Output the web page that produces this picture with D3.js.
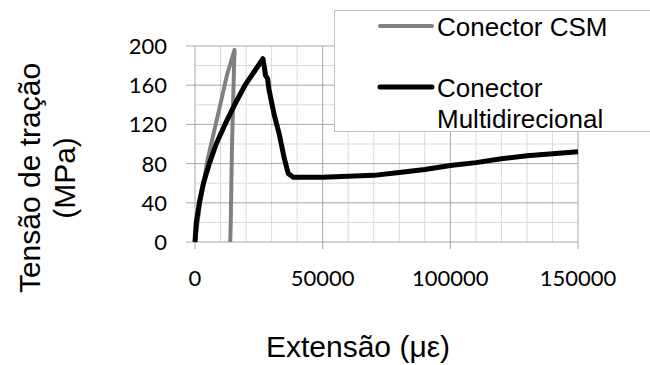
<!DOCTYPE html>
<html>
<head>
<meta charset="utf-8">
<script src="https://cdn.jsdelivr.net/npm/d3@7"></script>
<style>
  body { margin: 0; background: #fff; }
  svg { display: block; }
</style>
</head>
<body>
<div id="chart"></div>
<script>
// data (strain in microstrain, stress in MPa)
const csmStrain = [0, 2000, 5000, 9000, 12500, 15500, 15300, 14500, 14000, 13800];
const csmStress = [0, 40, 85, 130, 170, 196, 180, 100, 20, 0];

const multiStrain = [0, 500, 1700, 3300, 5600, 8300, 11750, 15500, 19600, 23500, 26600, 27200, 27600, 28400, 29000, 31000, 33000, 35000, 36500, 38500, 50000, 60000, 70000, 80000, 90000, 100000, 110000, 120000, 130000, 140000, 150000];
const multiStress = [0, 20, 40, 60, 80, 100, 120, 140, 160, 175, 187, 178, 170, 167, 155, 130, 110, 85, 70, 66, 66, 67, 68, 71, 74, 78, 81, 85, 88, 90, 92];

const xTicks = [0, 50000, 100000, 150000];
const yTicks = [0, 40, 80, 120, 160, 200];
const seriesNames = ["Conector CSM", ["Conector", "Multidirecional"]];

const width = 650, height = 365;
const x0 = 195, x1 = 578, yTop = 46, yBot = 242;

const x = d3.scaleLinear().domain([0, 150000]).range([x0, x1]);
const y = d3.scaleLinear().domain([0, 200]).range([yBot, yTop]);

const svg = d3.select("#chart").append("svg")
    .attr("width", width)
    .attr("height", height);

const tickFont = "Lato, 'Open Sans', sans-serif";
const textFont = "'Liberation Sans', Arial, sans-serif";

// minor grid
svg.append("g").selectAll("line")
    .data(d3.range(10000, 150000, 10000).filter(v => v % 50000 !== 0))
    .enter().append("line")
    .attr("x1", d => x(d)).attr("x2", d => x(d))
    .attr("y1", yTop).attr("y2", yBot)
    .attr("stroke", "#d9d9d9").attr("stroke-width", 1);
svg.append("g").selectAll("line")
    .data([20, 60, 100, 140, 180])
    .enter().append("line")
    .attr("x1", x0).attr("x2", x1)
    .attr("y1", d => y(d)).attr("y2", d => y(d))
    .attr("stroke", "#d9d9d9").attr("stroke-width", 1);

// major grid
svg.append("g").selectAll("line")
    .data(xTicks.slice(1))
    .enter().append("line")
    .attr("x1", d => x(d)).attr("x2", d => x(d))
    .attr("y1", yTop).attr("y2", yBot + 7)
    .attr("stroke", "#a6a6a6").attr("stroke-width", 1);
svg.append("g").selectAll("line")
    .data(yTicks)
    .enter().append("line")
    .attr("x1", x0 - 9).attr("x2", x1)
    .attr("y1", d => y(d)).attr("y2", d => y(d))
    .attr("stroke", "#a6a6a6").attr("stroke-width", 1);
// y axis line
svg.append("line")
    .attr("x1", x0).attr("x2", x0)
    .attr("y1", yTop).attr("y2", yBot + 7)
    .attr("stroke", "#a6a6a6");

// tick labels
svg.append("g").selectAll("text")
    .data(yTicks)
    .enter().append("text")
    .attr("x", 167)
    .attr("y", d => y(d) + 8)
    .attr("text-anchor", "end")
    .style("font-family", tickFont)
    .style("font-size", "22px")
    .text(d => d);
svg.append("g").selectAll("text")
    .data(xTicks)
    .enter().append("text")
    .attr("x", d => x(d))
    .attr("y", 286)
    .attr("text-anchor", "middle")
    .style("font-family", tickFont)
    .style("font-size", "22px")
    .text(d => d);

// lines
const line = d3.line().x(d => x(d[0])).y(d => y(d[1]));
svg.append("path")
    .datum(csmStrain.map((v, i) => [v, csmStress[i]]))
    .attr("d", line)
    .attr("fill", "none")
    .attr("stroke", "#808080")
    .attr("stroke-width", 4)
    .attr("stroke-linejoin", "round");
svg.append("path")
    .datum(multiStrain.map((v, i) => [v, multiStress[i]]))
    .attr("d", line)
    .attr("fill", "none")
    .attr("stroke", "#000")
    .attr("stroke-width", 5)
    .attr("stroke-linejoin", "round");

// legend
const leg = svg.append("g");
leg.append("rect")
    .attr("x", 334.5).attr("y", 10.5)
    .attr("width", 330).attr("height", 121)
    .attr("fill", "#fff")
    .attr("stroke", "#bfbfbf");
leg.append("line")
    .attr("x1", 380).attr("x2", 432).attr("y1", 26).attr("y2", 26)
    .attr("stroke", "#808080").attr("stroke-width", 4).attr("stroke-linecap", "round");
leg.append("line")
    .attr("x1", 380).attr("x2", 432).attr("y1", 87).attr("y2", 87)
    .attr("stroke", "#000").attr("stroke-width", 5).attr("stroke-linecap", "round");
leg.append("text")
    .attr("x", 437).attr("y", 36)
    .style("font-family", textFont)
    .style("font-size", "26px")
    .text(seriesNames[0]);
leg.append("text")
    .attr("x", 437).attr("y", 97)
    .style("font-family", textFont)
    .style("font-size", "26px")
    .selectAll("tspan")
    .data(seriesNames[1])
    .enter().append("tspan")
    .attr("x", 437)
    .attr("dy", (d, i) => i === 0 ? 0 : 31)
    .text(d => d);

// axis titles
svg.append("text")
    .attr("x", 358).attr("y", 357)
    .attr("text-anchor", "middle")
    .style("font-family", textFont)
    .style("font-size", "30px")
    .text("Extensão (με)");
svg.append("text")
    .attr("transform", "translate(40,178) rotate(-90)")
    .attr("text-anchor", "middle")
    .style("font-family", textFont)
    .style("font-size", "30px")
    .selectAll("tspan")
    .data(["Tensão de tração", "(MPa)"])
    .enter().append("tspan")
    .attr("x", 0)
    .attr("dy", (d, i) => i === 0 ? 0 : 35)
    .text(d => d);
</script>
</body>
</html>
